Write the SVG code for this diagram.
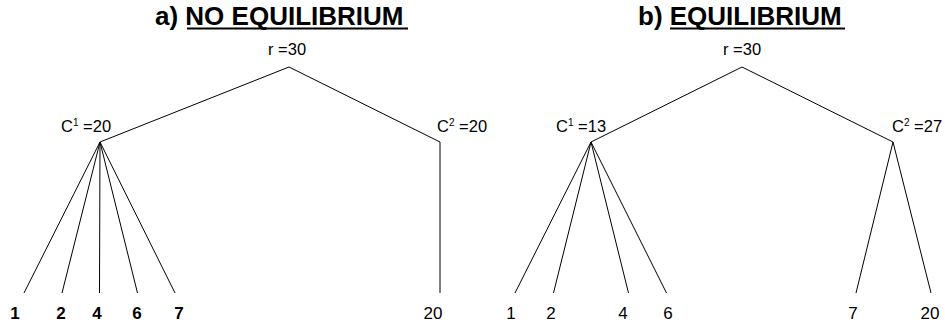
<svg xmlns="http://www.w3.org/2000/svg" width="945" height="329" viewBox="0 0 945 329">
<style>
text{font-family:"Liberation Sans",Arial,sans-serif;fill:#000}
.title{font-size:26px;font-weight:bold}
.lbl{font-size:16.5px}
.sup{font-size:10px}
.leaf{font-size:17px;text-anchor:middle}
.bold{font-weight:bold}
.edge{stroke:#000;stroke-width:1;fill:none}
.ul{stroke:#000;stroke-width:2}
</style>
<rect width="945" height="329" fill="#fff"/>
<g id="titles">
<text class="title" x="155" y="25">a) NO EQUILIBRIUM</text>
<line class="ul" x1="187" y1="28.5" x2="408" y2="28.5"/>
<text class="title" x="638" y="25">b) EQUILIBRIUM</text>
<line class="ul" x1="670" y1="28.5" x2="845" y2="28.5"/>
</g>
<g id="connectors">
<polyline class="edge" points="100,142 289,67 440,142 440,293"/>
<line class="edge" x1="100" y1="142" x2="24" y2="293"/>
<line class="edge" x1="100" y1="142" x2="62" y2="293"/>
<line class="edge" x1="100" y1="142" x2="99.5" y2="293"/>
<line class="edge" x1="100" y1="142" x2="137.5" y2="293"/>
<line class="edge" x1="100" y1="142" x2="175" y2="293"/>
<polyline class="edge" points="591,142 742,67 893,142"/>
<line class="edge" x1="591" y1="142" x2="515" y2="293"/>
<line class="edge" x1="591" y1="142" x2="553.5" y2="293"/>
<line class="edge" x1="591" y1="142" x2="628.5" y2="293"/>
<line class="edge" x1="591" y1="142" x2="666.5" y2="293"/>
<line class="edge" x1="893" y1="142" x2="856" y2="293"/>
<line class="edge" x1="893" y1="142" x2="931" y2="293"/>
</g>
<g id="a-root"><text class="lbl" x="268" y="55">r =30</text></g>
<g id="a-c1"><text class="lbl" x="61" y="132">C<tspan class="sup" dy="-6">1</tspan><tspan dy="6"> =20</tspan></text></g>
<g id="a-c2"><text class="lbl" x="437" y="132">C<tspan class="sup" dy="-6">2</tspan><tspan dy="6"> =20</tspan></text></g>
<g id="a-leaf1"><text class="leaf bold" x="15" y="319">1</text></g>
<g id="a-leaf2"><text class="leaf bold" x="61" y="319">2</text></g>
<g id="a-leaf4"><text class="leaf bold" x="97" y="319">4</text></g>
<g id="a-leaf6"><text class="leaf bold" x="137" y="319">6</text></g>
<g id="a-leaf7"><text class="leaf bold" x="179" y="319">7</text></g>
<g id="a-leaf20"><text class="leaf" x="433" y="319">20</text></g>
<g id="b-root"><text class="lbl" x="723" y="55">r =30</text></g>
<g id="b-c1"><text class="lbl" x="556" y="132">C<tspan class="sup" dy="-6">1</tspan><tspan dy="6"> =13</tspan></text></g>
<g id="b-c2"><text class="lbl" x="892" y="132">C<tspan class="sup" dy="-6">2</tspan><tspan dy="6"> =27</tspan></text></g>
<g id="b-leaf1"><text class="leaf" x="511" y="319">1</text></g>
<g id="b-leaf2"><text class="leaf" x="551" y="319">2</text></g>
<g id="b-leaf4"><text class="leaf" x="623" y="319">4</text></g>
<g id="b-leaf6"><text class="leaf" x="668" y="319">6</text></g>
<g id="b-leaf7"><text class="leaf" x="853" y="319">7</text></g>
<g id="b-leaf20"><text class="leaf" x="930" y="319">20</text></g>
</svg>
